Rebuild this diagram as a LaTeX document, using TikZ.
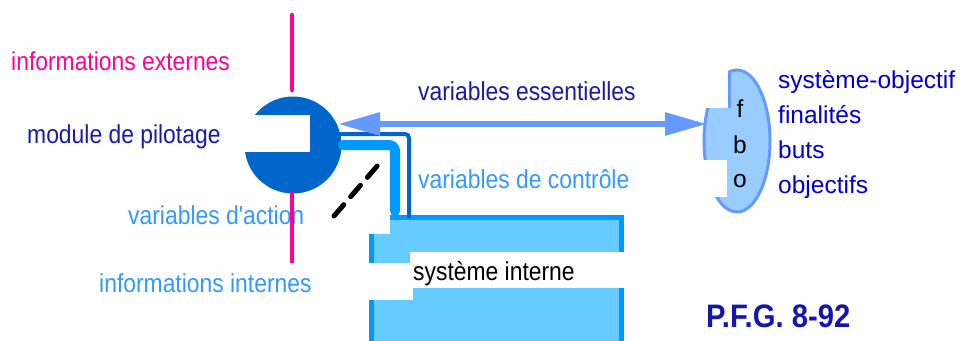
\documentclass[tikz,border=0pt]{standalone}
\usepackage{fontspec}
\setmainfont{Liberation Sans}
\newfontfamily\pixfont[FakeStretch=0.88]{Liberation Sans}
\newfontfamily\pfgfont[FakeStretch=0.9]{Liberation Sans}
\usetikzlibrary{arrows.meta,shapes.geometric}
\definecolor{pinkline}{HTML}{FF0099}
\definecolor{pilotblue}{HTML}{0066CC}
\definecolor{darktext}{HTML}{1A1AA6}
\definecolor{lighttext}{HTML}{3399FF}
\definecolor{actline}{HTML}{0099FF}
\definecolor{essblue}{HTML}{6699FF}
\definecolor{boxfill}{HTML}{66CCFF}
\definecolor{fbofill}{HTML}{99CCFF}
\definecolor{objblue}{HTML}{0000CC}
\definecolor{pfgblue}{HTML}{1515B0}
\newcommand{\pixtext}{\pixfont\fontsize{26}{30}\selectfont}
\newcommand{\objtext}{\fontsize{24.5}{35}\selectfont}

\begin{document}
\begin{tikzpicture}[x=1pt,y=-1pt,>={Triangle[length=42pt,width=22pt]},
  lbl/.style={anchor=base west,inner sep=0pt,font=\pixtext},
  obj/.style={anchor=base west,inner sep=0pt,font=\objtext,text=objblue},
  letter/.style={anchor=base,inner sep=0pt,font=\objtext}]
\useasboundingbox (0,0) rectangle (961,340);
\coordinate (extA) at (292,15);
\coordinate (extB) at (292,90);
\coordinate (intA) at (292,192);
\coordinate (intB) at (292,263);
\coordinate (ctrlA) at (340,134);
\coordinate (ctrlB) at (409,218);
\coordinate (actA) at (343,145);
\coordinate (actB) at (395,211);
\coordinate (dashA) at (334,216);
\coordinate (dashB) at (378,165);
\coordinate (essL) at (338,124);
\coordinate (essR) at (707,124);

\node[lbl,text=pinkline] (infext) at (11,70) {informations externes};
\node[lbl,text=darktext] (pilotlbl) at (27,143) {module de pilotage};
\node[lbl,text=lighttext] (action) at (128,224) {variables d'action};
\node[lbl,text=lighttext] (infint) at (99,292) {informations internes};
\node[lbl,text=darktext] (ess) at (418,100) {variables essentielles};
\node[lbl,text=lighttext] (ctrl) at (418,188) {variables de contrôle};

\node[draw=actline,fill=boxfill,line width=5pt,inner sep=0pt,outer sep=0pt,
  minimum width=249.5pt,minimum height=127.5pt] (sysbox) at (496.25,281.25) {};
\fill[white] (362,200) rectangle (390,233.5);
\fill[white] (362,263) rectangle (413,300);
\fill[white] (410,252) rectangle (627,288);
\node[lbl,text=black] (sysname) at (413,280) {système interne};

\node[circle,fill=pilotblue,inner sep=0pt,minimum size=97pt] (pilot) at (293,145) {};
\fill[white] (240,115) rectangle (310,152);
\draw[pinkline,line width=4.5pt,line cap=round] (extA) -- (extB);
\draw[pinkline,line width=4.5pt] (intA) -- (intB);
\draw[pilotblue,line width=4pt,rounded corners=4pt] (ctrlA) -| (ctrlB);
\draw[actline,line width=10pt,line cap=round,rounded corners=6pt] (actA) -| (actB);
\draw[line width=5pt,line cap=round,dash pattern=on 15pt off 10.5pt] (dashA) -- (dashB);

\node[ellipse,fill=fbofill,draw=essblue,line width=3pt,inner sep=0pt,
  minimum width=66pt,minimum height=142pt] (fbo) at (737,141) {};
\fill[white] (698,60) rectangle (728,108);
\fill[white] (698,160) rectangle (727,197);
\draw[essblue,line width=3pt] (729.5,72) -- (729.5,108);
\draw[essblue,line width=6pt,<->] (essL) -- (essR);
\node[letter] (f) at (740,117) {f};
\node[letter] (b) at (740,153) {b};
\node[letter] (o) at (740,187) {o};

\node[obj] (sysobj) at (778,88) {système-objectif};
\node[obj] (finalites) at (778,123) {finalités};
\node[obj] (buts) at (778,158) {buts};
\node[obj] (objectifs) at (778,193) {objectifs};
\node[anchor=base west,inner sep=0pt,text=pfgblue,
  font=\pfgfont\bfseries\fontsize{32.5}{33}\selectfont] (pfg) at (706,327) {P.F.G. 8-92};
\end{tikzpicture}
\end{document}
